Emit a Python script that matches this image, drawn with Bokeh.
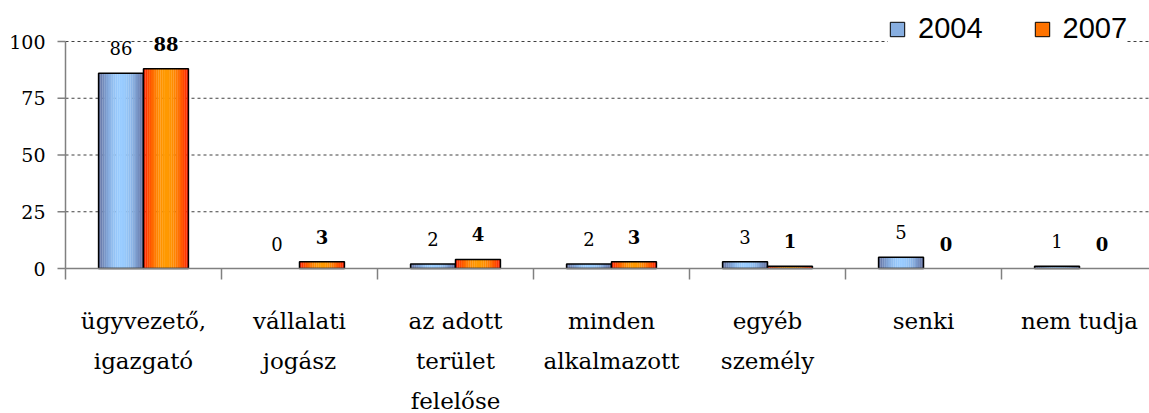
import numpy as np
from bokeh.plotting import figure
from bokeh.models import Legend, LegendItem
from bokeh.core.properties import value
from bokeh.embed import file_html
from bokeh.resources import INLINE

# ---- data ----
categories = ["ügyvezető,\nigazgató", "vállalati\njogász", "az adott\nterület\nfelelőse",
              "minden\nalkalmazott", "egyéb\nszemély", "senki", "nem tudja"]
series_names = ["2004", "2007"]
values_2004 = [86, 0, 2, 2, 3, 5, 1]
values_2007 = [88, 3, 4, 3, 1, 0, 0]
y_ticks = [0, 25, 50, 75, 100]

# ---- layout (pixels) ----
W, H = 1149, 413
PX_LEFT, PX_ZERO, PX_TOP100 = 65, 268, 41
CAT_PX = 156.0
UNIT_PX = (PX_ZERO - PX_TOP100) / 100.0

x_start = -PX_LEFT / CAT_PX
x_end = (W - PX_LEFT) / CAT_PX
y_end = PX_ZERO / UNIT_PX
y_start = -(H - PX_ZERO) / UNIT_PX

def px_x(px):
    return px / CAT_PX

def px_y(px):
    return px / UNIT_PX

BAR_W = 0.288
N_STRIPS = 24
SERIF = value("DejaVu Serif")
AXIS_COL = "#808080"

def mix(c1, c2, t):
    a = np.array([int(c1[i:i + 2], 16) for i in (1, 3, 5)], dtype=float)
    b = np.array([int(c2[i:i + 2], 16) for i in (1, 3, 5)], dtype=float)
    c = a + (b - a) * t
    return "#%02x%02x%02x" % tuple(int(round(v)) for v in c)

styles = {
    "2004": dict(edge="#5d6898", mid="#99ccff", side=-1, bold=False),
    "2007": dict(edge="#ff1a00", mid="#ff9900", side=1, bold=True),
}

n = len(categories)
p = figure(width=W, height=H, x_range=(x_start, x_end), y_range=(y_start, y_end),
           output_backend="svg", toolbar_location=None,
           x_axis_location=None, y_axis_location=None,
           min_border=0, min_border_left=0, min_border_right=0,
           min_border_top=0, min_border_bottom=0)
p.outline_line_color = None
p.background_fill_color = "white"
p.xgrid.visible = False
p.ygrid.visible = False

# dashed gridlines
grid_vals = y_ticks[1:]
p.segment(x0=[0] * len(grid_vals), x1=[x_end] * len(grid_vals), y0=grid_vals, y1=grid_vals,
          line_color="#404040", line_dash="3 3", line_width=1)

# bars with a horizontal gradient (vertical strips) and a black outline
legend_items = []
centers = np.arange(n) + 0.5
for name, vals in zip(series_names, [values_2004, values_2007]):
    st = styles[name]
    lefts = centers + (0 if st["side"] > 0 else -BAR_W)
    vals_arr = np.array(vals, dtype=float)
    L, R, T, C = [], [], [], []
    for k in range(N_STRIPS):
        t0 = k / N_STRIPS
        t1 = (k + 1) / N_STRIPS
        shade = np.sin(np.pi * (t0 + t1) / 2) ** 0.9
        col = mix(st["edge"], st["mid"], shade)
        for i in range(n):
            if vals_arr[i] <= 0:
                continue
            L.append(lefts[i] + t0 * BAR_W)
            R.append(lefts[i] + t1 * BAR_W + 0.001)
            T.append(vals_arr[i])
            C.append(col)
    p.quad(left=L, right=R, top=T, bottom=0, fill_color=C, line_color=None)
    mask = vals_arr > 0
    p.quad(left=lefts[mask], right=lefts[mask] + BAR_W, top=vals_arr[mask], bottom=0,
           fill_color=None, line_color="black", line_width=1.5)
    # legend proxy (NaN, so nothing is drawn in the plot)
    r = p.quad(left=[np.nan], right=[np.nan], top=[np.nan], bottom=[np.nan],
               fill_color=mix(st["edge"], st["mid"], 0.7), line_color="black", line_width=1)
    legend_items.append(LegendItem(label=name, renderers=[r]))
    # value labels
    p.text(x=lefts + BAR_W / 2, y=vals_arr + px_y(25), text=[str(v) for v in vals],
           text_align="center", text_baseline="middle", text_font=SERIF,
           text_font_size="18px", text_font_style="bold" if st["bold"] else "normal",
           text_color="black")

# axes, drawn through the plot's scales
p.segment(x0=[0], x1=[x_end], y0=[0], y1=[0], line_color=AXIS_COL, line_width=1.5)
p.segment(x0=[0], x1=[0], y0=[y_ticks[0]], y1=[y_ticks[-1]], line_color=AXIS_COL, line_width=1.5)
bounds = list(range(n + 1))
p.segment(x0=bounds, x1=bounds, y0=[0] * len(bounds), y1=[-px_y(11)] * len(bounds),
          line_color=AXIS_COL, line_width=1.5)
p.segment(x0=[0] * len(y_ticks), x1=[-px_x(8)] * len(y_ticks), y0=y_ticks, y1=y_ticks,
          line_color=AXIS_COL, line_width=1.5)
p.text(x=[-px_x(20)] * len(y_ticks), y=y_ticks, text=[str(t) for t in y_ticks],
       text_align="right", text_baseline="middle", text_font=SERIF,
       text_font_size="19px", text_color="black")

# category labels, one text per line
lx, ly, lt = [], [], []
for c, lab in zip(centers, categories):
    for j, line in enumerate(lab.split("\n")):
        lx.append(c)
        ly.append(-px_y(52 + 40 * j))
        lt.append(line)
p.text(x=lx, y=ly, text=lt, text_align="center", text_baseline="middle",
       text_font=SERIF, text_font_size="23px", text_color="black")

legend = Legend(items=legend_items, location=(888, H - 45), orientation="horizontal",
                glyph_width=18, glyph_height=18, label_standoff=12, spacing=50,
                padding=0, margin=0, border_line_color=None,
                background_fill_color="white", background_fill_alpha=1.0,
                label_text_font="Liberation Sans", label_text_font_size="29px",
                label_text_color="black")
p.add_layout(legend, "center")

open("out.html", "w").write(file_html(p, INLINE))
